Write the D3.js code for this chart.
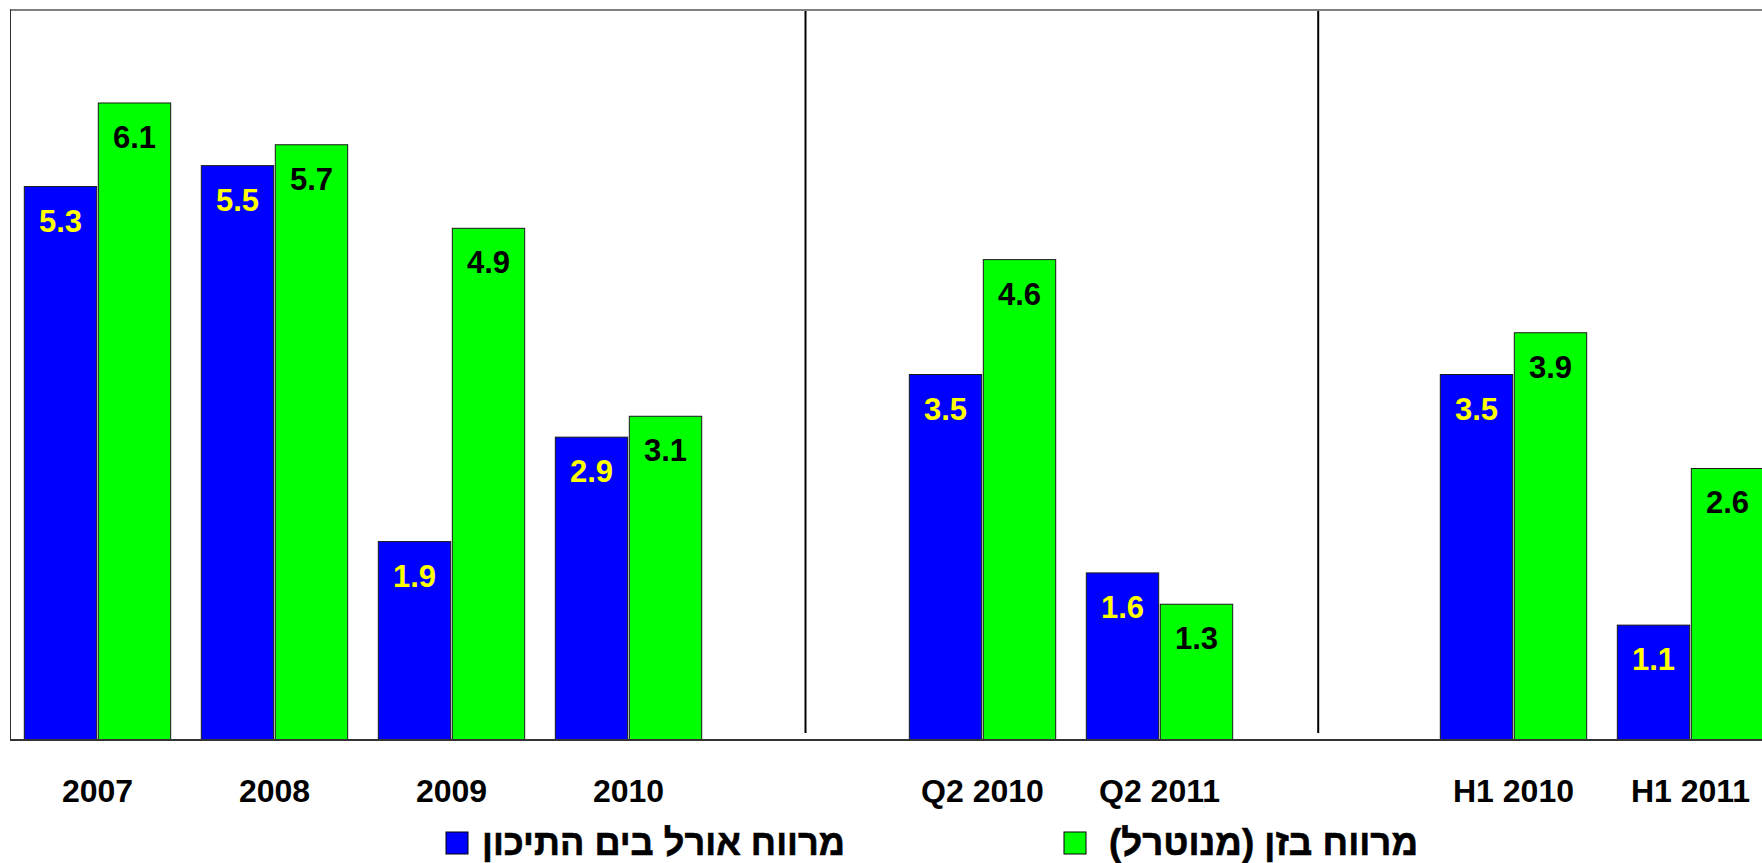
<!DOCTYPE html>
<html>
<head>
<meta charset="utf-8">
<script src="https://cdn.jsdelivr.net/npm/d3@7"></script>
<style>
  html, body { margin: 0; padding: 0; background: #fff; overflow: hidden; }
  svg { display: block; }
</style>
</head>
<body>
<svg id="chart" width="1762" height="863"></svg>
<script>
// ---- data ----
const categories = ["2007", "2008", "2009", "2010", "gap1", "Q2 2010", "Q2 2011", "gap2", "H1 2010", "H1 2011"];
const seriesNames = ["מרווח אורל בים התיכון", "מרווח בזן (מנוטרל)"];
const orlMargin = [5.3, 5.5, 1.9, 2.9, null, 3.5, 1.6, null, 3.5, 1.1];
const bazanMargin = [6.1, 5.7, 4.9, 3.1, null, 4.6, 1.3, null, 3.9, 2.6];
const seriesColors = ["#0000FF", "#00FF00"];
const labelColors = ["#FFFF00", "#000000"];
const dividers = [{ slot: "gap1", frac: 0.5 }, { slot: "gap2", frac: 0.375 }];
const yDomain = [0, 7];

// ---- layout ----
const svg = d3.select("#chart");
const plot = { left: 10, top: 9, bottom: 740 };
const font = "'Liberation Sans', Arial, 'DejaVu Sans', sans-serif";

const x0 = d3.scaleBand()
  .domain(categories)
  .range([24.3, 1763.7])
  .paddingInner(0.173)
  .paddingOuter(0);

const x1 = d3.scaleBand()
  .domain([0, 1])
  .range([0, x0.bandwidth()])
  .paddingInner(0.022);

const y = d3.scaleLinear().domain(yDomain).range([plot.bottom, plot.top]);

// frame
svg.append("line")
  .attr("x1", plot.left).attr("x2", 1762)
  .attr("y1", plot.top + 1).attr("y2", plot.top + 1)
  .attr("stroke", "#808080").attr("stroke-width", 2);
svg.append("line")
  .attr("x1", plot.left + 0.5).attr("x2", plot.left + 0.5)
  .attr("y1", plot.top).attr("y2", plot.bottom)
  .attr("stroke", "#303030").attr("stroke-width", 1);

// dividers
svg.selectAll("line.div")
  .data(dividers)
  .join("line")
  .attr("class", "div")
  .attr("x1", d => x0(d.slot) + x0.bandwidth() * d.frac)
  .attr("x2", d => x0(d.slot) + x0.bandwidth() * d.frac)
  .attr("y1", plot.top + 2)
  .attr("y2", plot.bottom - 7)
  .attr("stroke", "#000").attr("stroke-width", 2);

// bars
const rows = categories.map((c, i) => ({ cat: c, vals: [orlMargin[i], bazanMargin[i]] }))
  .filter(r => r.vals[0] !== null);

const groups = svg.selectAll("g.grp")
  .data(rows)
  .join("g")
  .attr("class", "grp")
  .attr("transform", d => `translate(${x0(d.cat)},0)`);

groups.selectAll("rect")
  .data(d => d.vals.map((v, s) => ({ v, s })))
  .join("rect")
  .attr("x", d => x1(d.s))
  .attr("y", d => y(d.v))
  .attr("width", x1.bandwidth())
  .attr("height", d => y(0) - y(d.v))
  .attr("fill", d => seriesColors[d.s])
  .attr("stroke", "#1a1a1a")
  .attr("stroke-width", 1);

groups.selectAll("text.val")
  .data(d => d.vals.map((v, s) => ({ v, s })))
  .join("text")
  .attr("class", "val")
  .attr("x", d => x1(d.s) + x1.bandwidth() / 2)
  .attr("y", d => y(d.v) + 45)
  .attr("text-anchor", "middle")
  .attr("font-family", font)
  .attr("font-weight", "bold")
  .attr("font-size", 31)
  .attr("fill", d => labelColors[d.s])
  .text(d => d.v.toFixed(1));

// baseline
svg.append("line")
  .attr("x1", plot.left).attr("x2", 1762)
  .attr("y1", y(0)).attr("y2", y(0))
  .attr("stroke", "#333").attr("stroke-width", 2);

// category labels
svg.selectAll("text.cat")
  .data(rows)
  .join("text")
  .attr("class", "cat")
  .attr("x", d => x0(d.cat) + x0.bandwidth() / 2)
  .attr("y", 802)
  .attr("text-anchor", "middle")
  .attr("font-family", font)
  .attr("font-weight", "bold")
  .attr("font-size", 32)
  .attr("fill", "#000")
  .text(d => d.cat);

// legend
const legendItems = [
  { name: seriesNames[0], color: seriesColors[0], sx: 446, tc: 663.5, tw: 363 },
  { name: seriesNames[1], color: seriesColors[1], sx: 1064, tc: 1263.5, tw: 309 }
];
const lg = svg.selectAll("g.leg").data(legendItems).join("g").attr("class", "leg");
lg.append("rect")
  .attr("x", d => d.sx).attr("y", 832)
  .attr("width", 22).attr("height", 22)
  .attr("fill", d => d.color)
  .attr("stroke", "#000").attr("stroke-width", 1);
lg.append("text")
  .attr("x", d => d.tc).attr("y", 855)
  .attr("text-anchor", "middle")
  .attr("direction", "rtl")
  .style("direction", "rtl")
  .attr("font-family", font)
  .attr("font-weight", "bold")
  .attr("font-size", 37)
  .attr("textLength", d => d.tw)
  .attr("lengthAdjust", "spacingAndGlyphs")
  .attr("fill", "#000")
  .attr("stroke", "#000")
  .attr("stroke-width", 0.6)
  .text(d => d.name);
</script>
</body>
</html>
